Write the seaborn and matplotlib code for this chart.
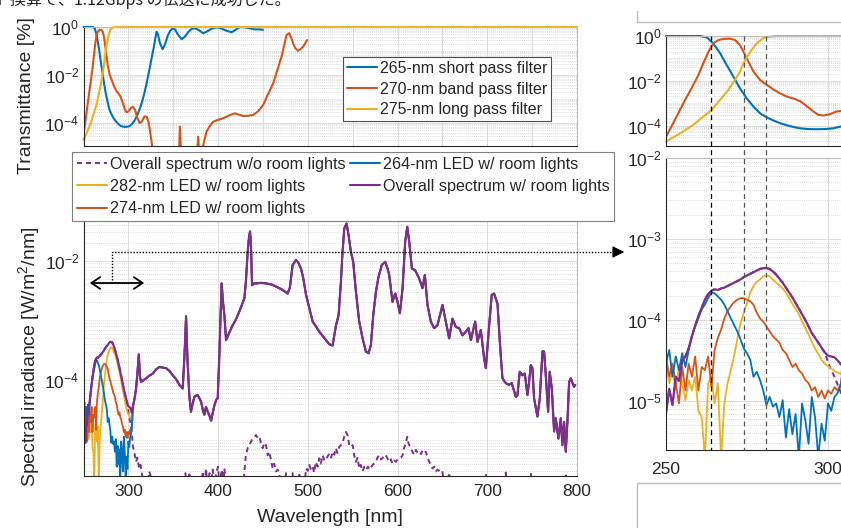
import numpy as np
import pandas as pd
import matplotlib
matplotlib.use("Agg")
import matplotlib.pyplot as plt
import seaborn as sns
from matplotlib.lines import Line2D
from matplotlib.patches import FancyArrowPatch
from matplotlib import ticker, transforms

# ---------------- data (log10 of values) ----------------
# filter transmittance curves
sp_wl = [250, 255, 260.5, 262.6, 264.6, 266.7, 268.7, 270.8, 272.8, 274.9,
         277, 279, 281.1, 283.1, 285.2, 287.2, 289.3, 291.4, 293.4, 295.5,
         297.5, 299.6, 301.6, 304, 306.5, 309.2, 312, 314.8, 317.5, 320.3,
         322.5, 324.8, 326.7, 328.5, 330, 331.5, 333, 335, 338.2, 341,
         344, 346.5, 349.3, 352, 355, 359.4, 363, 367, 370.5, 374.2,
         378, 383.4, 388, 393, 398.3, 403, 409, 415, 419, 424.2,
         430, 436, 441, 446, 450]
sp_log = [0, 0, 0, -0.06, -0.33, -0.77, -1.29, -1.81, -2.33, -2.78,
          -3.15, -3.45, -3.63, -3.77, -3.89, -3.98, -4.06, -4.12, -4.15, -4.16,
          -4.16, -4.15, -4.12, -4.04, -3.92, -3.74, -3.48, -3.18, -2.8, -2.35,
          -1.95, -1.51, -1.15, -0.82, -0.48, -0.2, -0.3, -0.65, -0.93, -0.7,
          -0.35, -0.17, -0.05, -0.1, -0.3, -0.51, -0.4, -0.2, -0.08, -0.05,
          -0.12, -0.26, -0.18, -0.07, -0.01, -0.05, -0.15, -0.22, -0.13, 0,
          -0.01, -0.06, -0.1, -0.1, -0.12]

bp_wl = [250, 251.7, 253.8, 255.9, 257.9, 260, 261.5, 263.1, 264.6, 266.2,
         267.7, 269.8, 271.3, 272.8, 273.9, 275.4, 277, 279, 281.1, 283.1,
         285.2, 287.2, 289.3, 291.4, 293.4, 295.5, 297, 298.6, 300.6, 302.7,
         305, 307.5, 310, 312.5, 315, 318, 320.5, 322.5, 324.8, 327,
         329, 355.5, 357.5, 359.5, 375.5, 377.8, 380, 382, 384.5, 387.2,
         390.5, 394.5, 400.1, 406, 413.1, 418.7, 423, 428, 433, 439,
         445, 450.2, 455, 461.4, 466, 470.7, 474, 476.3, 479.2, 481.5,
         483.6, 486, 489.2, 492, 494.8, 497, 499.3]
bp_log = [-4.49, -4.04, -3.45, -2.85, -2.33, -1.74, -1.22, -0.7, -0.33, -0.18,
          -0.13, -0.12, -0.18, -0.4, -0.7, -1.14, -1.59, -1.96, -2.18, -2.38,
          -2.56, -2.7, -2.79, -2.91, -3.12, -3.37, -3.52, -3.55, -3.49, -3.37,
          -3.33, -3.45, -3.8, -4.0, -3.95, -3.72, -3.75, -3.95, -4.5, -5.1,
          -6.0, -6.0, -4.15, -6.0, -6.0, -4.57, -6.0, -5.2, -4.75, -4.35,
          -4.15, -3.95, -3.87, -3.8, -3.67, -3.6, -3.65, -3.71, -3.7, -3.67,
          -3.5, -3.25, -2.85, -2.35, -1.8, -1.24, -0.7, -0.33, -0.26, -0.45,
          -0.68, -0.88, -0.99, -0.92, -0.82, -0.68, -0.54]

lp_wl = [250, 252.3, 255.3, 258.4, 261.5, 264.1, 266.7, 269.2, 271.3, 272.8,
         274.4, 276, 278, 280, 282.1, 284.2, 800]
lp_log = [-4.71, -4.52, -4.26, -3.97, -3.6, -3.3, -2.85, -2.41, -1.96, -1.59,
          -1.07, -0.7, -0.33, -0.1, -0.03, 0, 0]

filter_labels = ["265-nm short pass filter", "270-nm band pass filter",
                 "275-nm long pass filter"]

# spectral irradiance, LED region 250..304 nm (1 nm steps)
led_wl = list(range(250, 305))
overall_led = [-5.15, -4.85, -5.05, -4.70, -4.75, -4.50, -4.45, -4.35, -4.20, -4.07,
               -3.95, -3.85, -3.75, -3.68, -3.64, -3.62, -3.63, -3.61, -3.60, -3.58,
               -3.56, -3.54, -3.52, -3.50, -3.47, -3.45, -3.43, -3.41, -3.39, -3.37,
               -3.36, -3.36, -3.37, -3.40, -3.44, -3.49, -3.54, -3.60, -3.66, -3.72,
               -3.79, -3.86, -3.93, -4.00, -4.08, -4.16, -4.22, -4.28, -4.34, -4.40,
               -4.44, -4.45, -4.46, -4.50, -4.55]
led264_led = [-4.53, -4.37, -4.70, -4.45, -4.62, -4.41, -4.58, -4.37, -4.20, -4.08,
              -3.98, -3.87, -3.81, -3.73, -3.66, -3.67, -3.71, -3.75, -3.81, -3.89,
              -3.98, -4.06, -4.14, -4.24, -4.35, -4.41, -4.49, -4.70, -4.64, -4.74,
              -4.87, -5.05, -4.95, -5.07, -5.03, -5.20, -4.99, -5.45, -5.10, -5.41,
              -5.16, -5.70, -5.03, -5.24, -5.53, -4.95, -5.20, -5.70, -5.28, -5.49,
              -5.03, -5.12, -4.95, -4.90, -4.80]
led274_led = [-4.45, -4.70, -4.54, -4.78, -5.03, -4.58, -4.87, -4.54, -4.70, -4.45,
              -4.87, -4.58, -4.62, -4.45, -4.83, -4.37, -4.22, -4.12, -3.98, -3.89,
              -3.83, -3.78, -3.75, -3.73, -3.73, -3.75, -3.77, -3.81, -3.91, -3.98,
              -4.02, -4.08, -4.14, -4.20, -4.24, -4.28, -4.37, -4.41, -4.49, -4.58,
              -4.54, -4.62, -4.66, -4.74, -4.78, -4.87, -4.83, -4.95, -4.87, -4.97,
              -4.87, -4.91, -4.83, -4.87, -4.78]
led282_led = [-4.49, -4.78, -4.62, -4.87, -4.58, -4.78, -4.99, -4.74, -4.87, -4.70,
              -5.12, -5.20, -5.70, -4.78, -4.70, -5.03, -4.78, -5.70, -5.03, -4.78,
              -4.62, -4.45, -4.24, -4.04, -3.91, -3.79, -3.66, -3.58, -3.53, -3.50,
              -3.46, -3.45, -3.46, -3.50, -3.54, -3.57, -3.61, -3.66, -3.73, -3.80,
              -3.86, -3.93, -4.02, -4.10, -4.18, -4.27, -4.35, -4.42, -4.49, -4.54,
              -4.57, -4.60, -4.63, -4.65, -4.67]
wo_led = overall_led[:50] + [-4.52, -4.62, -4.70, -4.80, -4.90]

# room-light part shared by every "w/ room lights" curve (305..798 nm)
room_wl = [305, 307, 308.6, 310, 311.6, 313, 314.2, 317, 319.8, 323,
           327.2, 331, 334.6, 338, 342.1, 346, 349.5, 353, 356.9, 360.6,
           362.5, 364.3, 366, 368, 369.8, 371.5, 373.6, 375.5, 377.3, 379,
           381, 383, 384.7, 386.5, 388.5, 390.5, 392.2, 394, 395.9, 398,
           399.6, 401.4, 402.8, 404, 405.5, 407, 408.9, 412, 416.3, 420,
           423.7, 427, 429.3, 431, 433, 434.5, 435.6, 436.7, 437.8, 440,
           442.3, 448, 453.4, 460, 468.3, 473, 477.5, 480, 483.1, 486.8,
           489, 492.4, 495, 498, 501, 505.4, 509, 512.8, 516, 520.2,
           524, 527.6, 531.3, 534.3, 536.9, 538.5, 540.6, 543.2, 545.4, 548,
           550.6, 553.6, 557.3, 561, 564.7, 567.7, 570.3, 572.9, 575.9, 578.8,
           582.5, 586.3, 588.9, 590.7, 594.4, 597.4, 600, 602.6, 605.6, 608.5,
           610.8, 613, 616, 619.7, 624.1, 627.8, 630.4, 633.4, 637.1, 640.8,
           644.5, 650.1, 653.8, 657.5, 661.2, 665, 668.7, 672.4, 676.1, 679.1,
           681.7, 686.5, 689.1, 692.8, 696.5, 698.4, 702.1, 705, 707.6, 711.4,
           714, 716.9, 720.6, 724.3, 727.3, 731.8, 733.6, 736.2, 739.2, 741.8,
           744.8, 746.6, 748.5, 750.3, 752.2, 755.9, 758.5, 761.5, 763.3, 765.2,
           767.8, 769.6, 771.9, 774.5, 776.3, 779.3, 781.9, 783.7, 785.6, 787.5,
           789.3, 791.2, 793, 796.7, 798]
room_log = [-4.45, -4.30, -4.14, -3.90, -3.57, -3.95, -4.03, -4.00, -3.97, -3.93,
            -3.89, -3.82, -3.78, -3.79, -3.80, -3.85, -3.92, -3.98, -4.08, -4.14,
            -3.60, -2.93, -3.70, -4.28, -4.53, -4.40, -4.28, -4.26, -4.25, -4.30,
            -4.36, -4.50, -4.58, -4.45, -4.53, -4.60, -4.68, -4.55, -4.42, -4.33,
            -4.30, -3.58, -2.90, -2.38, -2.70, -2.91, -3.33, -3.22, -3.08, -2.98,
            -2.85, -2.72, -2.63, -2.35, -1.85, -1.60, -1.51, -1.75, -2.41, -2.38,
            -2.38, -2.37, -2.38, -2.40, -2.46, -2.50, -2.55, -2.45, -2.07, -1.99,
            -2.02, -2.13, -2.30, -2.57, -2.75, -3.02, -3.10, -3.19, -3.25, -3.33,
            -3.40, -3.42, -3.09, -2.91, -2.35, -1.90, -1.46, -1.375, -1.57, -1.85,
            -2.02, -2.52, -3.02, -3.30, -3.52, -3.55, -3.41, -2.91, -2.52, -2.27,
            -2.07, -2.02, -2.13, -2.24, -2.69, -2.55, -2.69, -2.88, -2.46, -1.68,
            -1.43, -1.68, -2.13, -2.16, -2.30, -2.46, -2.24, -2.74, -3.02, -3.13,
            -3.08, -2.74, -3.02, -3.30, -2.97, -3.11, -3.13, -3.25, -3.19, -3.13,
            -3.33, -3.02, -3.36, -3.16, -3.64, -3.80, -3.08, -2.57, -2.55, -2.72,
            -3.36, -3.97, -4.05, -4.08, -4.05, -4.28, -4.25, -3.86, -3.92, -3.89,
            -4.25, -4.03, -3.75, -3.80, -4.31, -4.61, -4.31, -3.52, -3.52, -3.92,
            -4.53, -3.86, -4.14, -4.86, -4.64, -4.98, -4.64, -5.09, -4.70, -5.20,
            -4.70, -4.03, -3.97, -4.11, -4.08]

# overall spectrum without room lights, beyond 304 nm
wo_wl = [305, 306.5, 308.6, 310, 312, 313.5, 315, 317, 322, 323,
         324.5, 326, 362, 363.6, 365, 367, 368, 369.5, 381, 383,
         384.5, 386.6, 388, 390.5, 392, 394, 396, 398, 400, 401.5,
         404, 406, 407, 409, 428, 429.3, 431, 433, 434.8, 436.7,
         438.6, 440.5, 442.3, 444, 446, 448, 449.7, 451.5, 453.4, 455.3,
         457, 459, 460.8, 462.5, 464.5, 466.5, 468.3, 470, 474, 475.7,
         477, 481, 483, 484.5, 489, 490.5, 492, 496, 498, 500,
         501.7, 503.5, 505.4, 507, 509, 511, 512.8, 514.5, 516.5, 518.5,
         520.2, 522, 524, 526, 527.6, 529.5, 531.3, 533, 535, 536.9,
         538.7, 540.6, 542.5, 544.3, 546.2, 548, 550, 551.7, 553.6, 555.5,
         557.3, 559, 561, 563, 565, 567, 569, 572.2, 575.9, 577.5,
         579.6, 581.5, 583.5, 585.5, 587, 589, 590.7, 592.5, 594.4, 596.2,
         598.1, 600, 601.9, 603.7, 605.6, 607, 608.5, 610.8, 612, 613,
         614.8, 616.7, 618.5, 620.4, 622.3, 624.1, 626, 627.8, 629.6, 631.5,
         633.4, 635.3, 637, 639, 641, 642.7, 644.5, 646.4, 648, 650,
         652, 655, 657.5, 659, 697, 698.4, 700, 719, 720.6, 722,
         747, 748.5, 750, 786, 787.5, 789, 800]
wo_log = [-5.10, -5.20, -5.37, -5.30, -5.48, -5.42, -5.55, -5.80, -5.80, -5.53,
          -5.58, -5.80, -5.80, -5.56, -5.80, -5.80, -5.58, -5.80, -5.80, -5.53,
          -5.80, -5.48, -5.80, -5.56, -5.80, -5.50, -5.80, -5.55, -5.45, -5.80,
          -5.50, -5.80, -5.48, -5.80, -5.80, -5.53, -5.25, -5.14, -5.09, -5.03,
          -4.98, -4.95, -4.92, -4.97, -4.95, -5.07, -5.14, -5.05, -5.09, -5.26,
          -5.20, -5.34, -5.48, -5.40, -5.53, -5.50, -5.56, -5.80, -5.80, -5.56,
          -5.80, -5.80, -5.56, -5.80, -5.80, -5.55, -5.80, -5.80, -5.48, -5.52,
          -5.42, -5.50, -5.45, -5.55, -5.37, -5.45, -5.31, -5.40, -5.26, -5.35,
          -5.34, -5.28, -5.23, -5.30, -5.20, -5.25, -5.14, -5.22, -5.12, -5.09,
          -5.05, -4.95, -4.87, -4.92, -5.09, -5.12, -5.09, -5.26, -5.37, -5.30,
          -5.48, -5.42, -5.53, -5.45, -5.50, -5.45, -5.50, -5.42, -5.37, -5.30,
          -5.26, -5.33, -5.30, -5.25, -5.26, -5.32, -5.37, -5.33, -5.40, -5.35,
          -5.37, -5.33, -5.31, -5.30, -5.26, -5.15, -5.09, -4.95, -5.05, -5.09,
          -5.15, -5.20, -5.25, -5.17, -5.22, -5.20, -5.24, -5.18, -5.22, -5.20,
          -5.30, -5.37, -5.42, -5.48, -5.45, -5.53, -5.50, -5.52, -5.55, -5.53,
          -5.80, -5.80, -5.55, -5.80, -5.80, -5.56, -5.80, -5.80, -5.55, -5.80,
          -5.80, -5.55, -5.80, -5.80, -5.56, -5.80, -5.80]

spectrum_labels = ["Overall spectrum w/o room lights", "282-nm LED w/ room lights",
                   "274-nm LED w/ room lights", "264-nm LED w/ room lights",
                   "Overall spectrum w/ room lights"]
led_peaks = [264, 274, 281]

# ---------------- style ----------------
BLUE, ORANGE, YELLOW, PURPLE = "#0072BD", "#D95319", "#EDB120", "#7E2F8E"
TXT = "#262626"

sns.set_theme(style="white")
plt.rcParams["font.family"] = ["Liberation Sans", "DejaVu Sans"]
plt.rcParams["mathtext.fontset"] = "custom"
plt.rcParams["mathtext.rm"] = "Liberation Sans"
plt.rcParams["mathtext.it"] = "Liberation Sans:italic"
plt.rcParams["mathtext.bf"] = "Liberation Sans:bold"
plt.rcParams["text.color"] = TXT

W, H = 841, 528
fig = plt.figure(figsize=(W / 100, H / 100), dpi=100)
fig.patch.set_facecolor("white")


def box(l, t, r, b):
    return [l / W, 1 - b / H, (r - l) / W, (b - t) / H]


ax_tl = fig.add_axes(box(83.5, 27, 577, 146))
ax_bl = fig.add_axes(box(83.5, 221, 577, 476))
ax_tr = fig.add_axes(box(666, 36, 990, 146))
ax_br = fig.add_axes(box(666, 158, 990, 450))

for a in (ax_tl, ax_bl, ax_tr, ax_br):
    a.set_yscale("log")


def draw(ax, x, logy, color, lw=1.4, ls="-", z=2, clip=True):
    df = pd.DataFrame({"wl": x, "val": np.power(10.0, np.asarray(logy, dtype=float))})
    sns.lineplot(data=df, x="wl", y="val", ax=ax, color=color, lw=lw, linestyle=ls,
                 estimator=None, sort=False, legend=False, zorder=z, clip_on=clip)


DASH = (0, (2.6, 2.0))

# filters
for ax in (ax_tl, ax_tr):
    draw(ax, sp_wl, sp_log, BLUE, 1.5, z=2.0, clip=False)
    draw(ax, bp_wl, bp_log, ORANGE, 1.5, z=2.1)
    draw(ax, lp_wl, lp_log, YELLOW, 1.5, z=2.2, clip=False)

# spectra
full_wl = led_wl + room_wl
for ax in (ax_bl, ax_br):
    draw(ax, led_wl + wo_wl, wo_led + wo_log, PURPLE, 1.4, ls=DASH, z=2.0)
    draw(ax, full_wl, led282_led + room_log, YELLOW, 1.3, z=2.1)
    draw(ax, full_wl, led274_led + room_log, ORANGE, 1.3, z=2.2)
    draw(ax, full_wl, led264_led + room_log, BLUE, 1.3, z=2.3)
    draw(ax, full_wl, overall_led + room_log, PURPLE, 1.6, z=2.4)

# ---------------- axes formatting ----------------
def fmt(ax, xlim, ylim, yt, xt, xlabels):
    ax.set_xlim(*xlim)
    ax.set_ylim(*ylim)
    ax.set_xlabel("")
    ax.set_ylabel("")
    ax.set_facecolor("white")
    ax.yaxis.set_major_locator(ticker.FixedLocator(yt))
    ax.yaxis.set_major_formatter(ticker.LogFormatterSciNotation())
    ax.yaxis.set_minor_locator(ticker.LogLocator(base=10, subs=np.arange(1, 10), numticks=100))
    ax.yaxis.set_minor_formatter(ticker.NullFormatter())
    ax.xaxis.set_major_locator(ticker.FixedLocator(xt))
    ax.xaxis.set_minor_locator(ticker.NullLocator())
    ax.set_axisbelow(True)
    ax.grid(True, which="major", color="#dcdcdc", lw=0.7, ls="-")
    ax.grid(True, which="minor", axis="y", color="#d2d2d2", lw=0.6, ls=(0, (1, 1.5)))
    ax.tick_params(which="both", direction="in", top=False, right=False,
                   colors=TXT, labelsize=12.5, width=0.6)
    ax.tick_params(which="major", length=4, pad=3)
    ax.tick_params(which="minor", length=2)
    ax.tick_params(axis="x", labelbottom=xlabels, pad=6)
    for s in ("left", "bottom"):
        ax.spines[s].set_color(TXT)
        ax.spines[s].set_linewidth(0.8)
    for s in ("top", "right"):
        ax.spines[s].set_color("#bdbdbd")
        ax.spines[s].set_linewidth(0.8)


fmt(ax_tl, (250, 800), (10 ** -4.96, 1.0), [1e-4, 1e-2, 1], list(range(300, 801, 50)), False)
fmt(ax_bl, (250, 800), (10 ** -5.607, 10 ** -1.334), [1e-4, 1e-2], list(range(300, 801, 100)), True)
fmt(ax_tr, (250, 350), (10 ** -4.91, 1.0), [1e-4, 1e-2, 1], [250, 300, 350], False)
fmt(ax_br, (250, 350), (10 ** -5.605, 1e-2), [1e-5, 1e-4, 1e-3, 1e-2], [250, 300, 350], True)
ax_br.tick_params(axis="x", pad=9)

# dashed vertical markers across the two right panels
trans = transforms.blended_transform_factory(ax_br.transData, fig.transFigure)
for k, xv in enumerate(led_peaks):
    fig.add_artist(Line2D([xv, xv], [1 - 36 / H, 1 - 450 / H], transform=trans,
                          color="black" if k == 0 else "#555555", lw=0.9,
                          ls=(0, (4, 3)), zorder=5))

# ---------------- legends ----------------
fh = [Line2D([], [], color=c, lw=1.5) for c in (BLUE, ORANGE, YELLOW)]
leg1 = fig.legend(fh, filter_labels, loc="upper left", bbox_to_anchor=(343 / W, 1 - 57 / H),
                  fontsize=11.5, handlelength=1.9, handletextpad=0.15, borderpad=0.25,
                  labelspacing=0.36, borderaxespad=0, frameon=True, fancybox=False,
                  framealpha=1)
leg1.get_frame().set_edgecolor("#4d4d4d")
leg1.get_frame().set_linewidth(0.8)

sh = [Line2D([], [], color=PURPLE, lw=1.4, ls=DASH),
      Line2D([], [], color=YELLOW, lw=1.5),
      Line2D([], [], color=ORANGE, lw=1.5),
      Line2D([], [], color=BLUE, lw=1.5),
      Line2D([], [], color=PURPLE, lw=1.5)]
leg2 = fig.legend(sh, spectrum_labels, loc="upper left", bbox_to_anchor=(72 / W, 1 - 152 / H),
                  ncol=2, fontsize=11.6, handlelength=1.9, handletextpad=0.15,
                  borderpad=0.3, labelspacing=0.45, columnspacing=0.25, borderaxespad=0,
                  frameon=True, fancybox=False, framealpha=1)
leg2.get_frame().set_edgecolor("#7f7f7f")
leg2.get_frame().set_linewidth(0.8)

# ---------------- labels ----------------
fig.text(27 / W, 1 - 96 / H, "Transmittance [%]", rotation=90, ha="center", va="center",
         fontsize=14, color=TXT)
fig.text(29 / W, 1 - 357 / H, "Spectral irradiance [W/m$^2$/nm]", rotation=90,
         ha="center", va="center", fontsize=14, color=TXT)
fig.text(330 / W, 1 - 518 / H, "Wavelength [nm]", ha="center", va="center",
         fontsize=14, color=TXT)
fig.text(-6 / W, 1 - 5 / H, "ト換算で、1.12Gbps の伝送に成功した。", ha="left",
         va="baseline", fontsize=11.5, color="#222222",
         family=["Noto Sans CJK JP", "DejaVu Sans"])

# ---------------- arrows / frames ----------------
def P(x, y):
    return (x / W, 1 - y / H)


fig.add_artist(FancyArrowPatch(P(87, 283), P(147, 283), transform=fig.transFigure,
                               arrowstyle="<->,head_length=0.45,head_width=0.3",
                               mutation_scale=14, lw=1.3, color="black", zorder=6))
fig.add_artist(Line2D([112 / W, 112 / W, 618 / W], [1 - 283 / H, 1 - 252 / H, 1 - 252 / H],
                      transform=fig.transFigure, color="black", lw=1.0,
                      ls=(0, (1, 1.2)), zorder=6))
fig.add_artist(FancyArrowPatch(P(612, 252), P(627, 252), transform=fig.transFigure,
                               arrowstyle="-|>,head_length=0.6,head_width=0.3",
                               mutation_scale=12, lw=0.8, color="black", zorder=6))
fig.add_artist(Line2D([637 / W, 637 / W, 1.02], [1 - 11 / H, 1 - 22 / H, 1 - 22 / H],
                      transform=fig.transFigure, color="#bdbdbd", lw=1.0))
fig.add_artist(Line2D([637 / W, 637 / W, 1.02], [-0.02, 1 - 483 / H, 1 - 483 / H],
                      transform=fig.transFigure, color="#bdbdbd", lw=1.0))

fig.savefig("out.png", dpi=100, facecolor="white")
